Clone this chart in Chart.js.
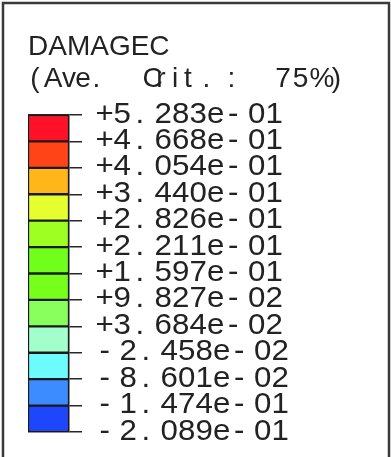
<!DOCTYPE html>
<html>
<head>
<meta charset="utf-8">
<script src="https://cdn.jsdelivr.net/npm/chart.js@4/dist/chart.umd.min.js"></script>
<style>
  html, body { margin: 0; padding: 0; background: #fff; }
  #wrap { width: 391px; height: 457px; position: relative; }
</style>
</head>
<body>
<div id="wrap"><canvas id="legend"></canvas></div>
<script>
// contour levels, bottom to top
const levels = [-0.2089, -0.1474, -0.08601, -0.02458, 0.03684, 0.09827, 0.1597,
                0.2211, 0.2826, 0.3440, 0.4054, 0.4668, 0.5283];
// one colour per band, bottom to top
const bandColors = ['#1e46ff', '#3c8cff', '#6cfcff', '#a2ffcc', '#88ff5c', '#76ff1a',
                    '#70ff1a', '#9eff22', '#e6ff2e', '#ffb618', '#ff4518', '#ff1228'];
const titleLines = ['DAMAGEC', '(Ave. Crit.: 75%)'];

// "+5.283e-01" style
function fmt(v) {
  let s = Math.abs(v).toExponential(3);
  let [m, e] = s.split('e');
  let ex = parseInt(e, 10);
  let es = (ex < 0 ? '-' : '+') + String(Math.abs(ex)).padStart(2, '0');
  return (v < 0 ? '-' : '+') + m + 'e' + es;
}

const FONT = '28px "Liberation Sans", Arial, sans-serif';
const TICK_FONT = '29.5px "Liberation Sans", Arial, sans-serif';
const INK = '#222';

// fixed pitch cells, narrow gap after '.' and '-'
function drawCells(ctx, str, x0, y) {
  const pitch = 17.5, gap = 6;
  let x = x0;
  for (const ch of str) {
    ctx.save();
    ctx.translate(x + pitch / 2, y);
    ctx.scale(1.06, 1);
    ctx.fillText(ch, 0, 0);
    ctx.restore();
    x += pitch;
    if (ch === '.' || ch === '-') x += gap;
  }
}

// second title line: centre of each glyph
const critPos = [35, 53, 69, 83, 96.5, 152.5, 161, 175, 188, 206.5, 231.5, 283, 300.5, 322, 336.5];

const legendText = {
  id: 'legendText',
  afterDraw(chart) {
    const ctx = chart.ctx;
    const y = chart.scales.y;
    ctx.save();
    // frame
    ctx.strokeStyle = '#3a3a3a';
    ctx.lineWidth = 2.5;
    ctx.beginPath();
    ctx.moveTo(3, 460);
    ctx.lineTo(3, 3);
    ctx.lineTo(389, 3);
    ctx.lineTo(389, 460);
    ctx.stroke();

    ctx.fillStyle = INK;
    ctx.font = FONT;
    ctx.textBaseline = 'alphabetic';
    ctx.textAlign = 'left';
    ctx.fillText(titleLines[0], 28, 55);

    ctx.textAlign = 'center';
    const chars = titleLines[1].replace(/ /g, '');
    for (let i = 0; i < chars.length; i++) {
      ctx.fillText(chars[i], critPos[i], 87);
    }

    ctx.font = TICK_FONT;
    levels.forEach(v => {
      const py = y.getPixelForValue(v);
      drawCells(ctx, fmt(v), 96, py + 7.5);
    });
    ctx.restore();
  }
};

const datasets = bandColors.map((c, i) => ({
  data: [[levels[i], levels[i + 1]]],
  backgroundColor: c,
  borderColor: '#1a1a1a',
  borderWidth: 1.5,
  borderSkipped: false,
  grouped: false,
  barPercentage: 1,
  categoryPercentage: 1
}));

new Chart(document.getElementById('legend'), {
  type: 'bar',
  data: { labels: [''], datasets: datasets },
  options: {
    responsive: true,
    maintainAspectRatio: false,
    animation: false,
    layout: { padding: { left: 28, top: 115, bottom: 25, right: 309 } },
    plugins: { legend: { display: false }, tooltip: { enabled: false } },
    scales: {
      x: { display: false },
      y: {
        position: 'right',
        min: levels[0],
        max: levels[levels.length - 1],
        afterBuildTicks: s => { s.ticks = levels.map(v => ({ value: v })); },
        ticks: { display: false },
        grid: { color: '#262626', lineWidth: 1.5, tickLength: 13, drawOnChartArea: true },
        border: { display: true, color: '#1a1a1a', width: 1.5 }
      }
    }
  },
  plugins: [legendText]
});
</script>
</body>
</html>
